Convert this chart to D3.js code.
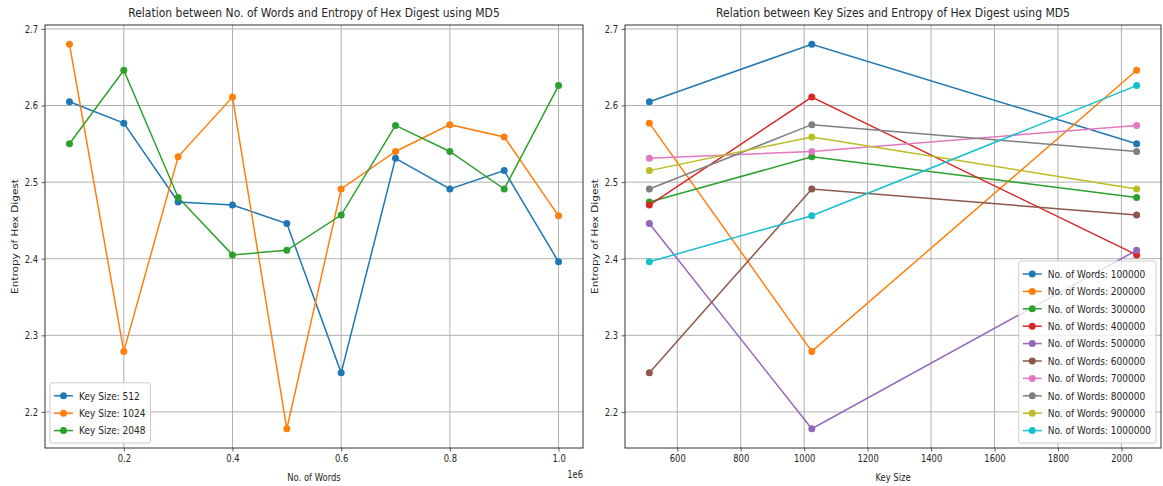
<!DOCTYPE html>
<html>
<head>
<meta charset="utf-8">
<script src="https://cdn.jsdelivr.net/npm/d3@7"></script>
<style>
  body { margin: 0; background: #fff; }
  text { font-family: "DejaVu Sans", sans-serif; fill: #262626; }
</style>
</head>
<body>
<svg id="chart" width="1163" height="486"></svg>
<script>
// Number of words hashed per run
const wordCounts = [100000, 200000, 300000, 400000, 500000, 600000, 700000, 800000, 900000, 1000000];
// Key sizes tested
const keySizes = [512, 1024, 2048];
// Entropy of the MD5 hex digest, one array per key size (indexed by word count)
const entropyKey512  = [2.605, 2.577, 2.474, 2.470, 2.446, 2.251, 2.531, 2.491, 2.515, 2.396];
const entropyKey1024 = [2.680, 2.279, 2.533, 2.611, 2.178, 2.491, 2.540, 2.575, 2.559, 2.456];
const entropyKey2048 = [2.550, 2.646, 2.480, 2.405, 2.411, 2.457, 2.574, 2.540, 2.491, 2.626];

// Tick values
const entropyTicks = [2.2, 2.3, 2.4, 2.5, 2.6, 2.7];
const wordTicks = [200000, 400000, 600000, 800000, 1000000];
const keyTicks = [600, 800, 1000, 1200, 1400, 1600, 1800, 2000];

const palette = ["#1f77b4", "#ff7f0e", "#2ca02c", "#d62728", "#9467bd",
                 "#8c564b", "#e377c2", "#7f7f7f", "#bcbd22", "#17becf"];

const SX = 0.8;       // horizontal text compression for ticks and labels
const SX_LEG = 0.82;  // legend text compression
const SX_TITLE = 0.83;

const svg = d3.select("#chart");

// matplotlib-style 5% padding around the data extent
function padded(values) {
  const [lo, hi] = d3.extent(values);
  const m = (hi - lo) * 0.05;
  return [lo - m, hi + m];
}

function squeeze(sel) {
  sel.each(function () {
    const t = d3.select(this);
    const x = +(t.attr("x") || 0);
    t.attr("x", x / SX).attr("transform", `scale(${SX},1)`);
  });
}

const allEntropy = entropyKey512.concat(entropyKey1024, entropyKey2048);
const yDomain = padded(allEntropy);

function panel(box, cfg) {
  const g = svg.append("g");
  const x = d3.scaleLinear().domain(cfg.xDomain).range([box.x0, box.x1]);
  const y = d3.scaleLinear().domain(yDomain).range([box.y1, box.y0]);

  // grid
  g.append("g").selectAll("line").data(cfg.xTicks).join("line")
    .attr("x1", d => x(d)).attr("x2", d => x(d))
    .attr("y1", box.y0).attr("y2", box.y1)
    .attr("stroke", "#b0b0b0").attr("stroke-width", 1);
  g.append("g").selectAll("line").data(entropyTicks).join("line")
    .attr("x1", box.x0).attr("x2", box.x1)
    .attr("y1", d => y(d)).attr("y2", d => y(d))
    .attr("stroke", "#b0b0b0").attr("stroke-width", 1);

  // axes
  const xa = g.append("g").attr("transform", `translate(0,${box.y1})`)
    .call(d3.axisBottom(x).tickValues(cfg.xTicks).tickFormat(cfg.xFmt)
      .tickSize(3.5).tickPadding(3.5).tickSizeOuter(0));
  const ya = g.append("g").attr("transform", `translate(${box.x0},0)`)
    .call(d3.axisLeft(y).tickValues(entropyTicks).tickFormat(d3.format(".1f"))
      .tickSize(3.5).tickPadding(3.5).tickSizeOuter(0));
  [xa, ya].forEach(a => {
    a.select(".domain").remove();
    a.selectAll(".tick line").attr("stroke", "#333").attr("stroke-width", 0.8);
    a.selectAll(".tick text").attr("font-size", 10.5).attr("fill", "#262626")
      .style("font-family", "DejaVu Sans, sans-serif").call(squeeze);
  });

  // frame
  g.append("rect").attr("x", box.x0).attr("y", box.y0)
    .attr("width", box.x1 - box.x0).attr("height", box.y1 - box.y0)
    .attr("fill", "none").attr("stroke", "#333").attr("stroke-width", 1);

  // series
  const line = d3.line().x(d => x(d[0])).y(d => y(d[1]));
  cfg.series.forEach((s, i) => {
    const pts = s.xs.map((v, j) => [v, s.ys[j]]);
    const sg = g.append("g");
    sg.append("path").attr("d", line(pts)).attr("fill", "none")
      .attr("stroke", palette[i]).attr("stroke-width", 1.5);
    sg.selectAll("circle").data(pts).join("circle")
      .attr("cx", d => x(d[0])).attr("cy", d => y(d[1])).attr("r", 3.5)
      .attr("fill", palette[i]);
  });

  // title and labels
  const cx = (box.x0 + box.x1) / 2;
  g.append("text").attr("transform", `translate(${cx},17) scale(${SX_TITLE},1)`)
    .attr("text-anchor", "middle").attr("font-size", 13).text(cfg.title);
  g.append("text").attr("transform", `translate(${cx},481) scale(${SX},1)`)
    .attr("text-anchor", "middle").attr("font-size", 10.5).text(cfg.xLabel);
  g.append("text")
    .attr("transform", `translate(${box.x0 - 27},${(box.y0 + box.y1) / 2}) scale(${SX},1) rotate(-90)`)
    .attr("text-anchor", "middle").attr("font-size", 10.5).text("Entropy of Hex Digest");
  if (cfg.offset) {
    g.append("text").attr("transform", `translate(${box.x1},478) scale(${SX},1)`)
      .attr("text-anchor", "end").attr("font-size", 10.5).text(cfg.offset);
  }

  // legend
  const rowH = 17.4;
  const lg = g.append("g");
  const bg = lg.append("rect");
  const items = lg.selectAll("g").data(cfg.series).join("g");
  let maxW = 0;
  items.each(function (s) {
    const it = d3.select(this);
    it.append("text").attr("font-size", 11).attr("dy", "0.35em")
      .attr("transform", `scale(${SX_LEG},1)`).text(s.label);
    maxW = Math.max(maxW, this.querySelector("text").getComputedTextLength() * SX_LEG);
  });
  const textX = 29;
  const bw = textX + maxW + 5;
  const bh = cfg.series.length * rowH + 8;
  const bx = cfg.legendRight ? box.x1 - 5 - bw : box.x0 + 5;
  const by = box.y1 - 5 - bh;
  bg.attr("x", bx).attr("y", by).attr("width", bw).attr("height", bh).attr("rx", 2)
    .attr("fill", "#fff").attr("fill-opacity", 0.8).attr("stroke", "#ccc");
  items.attr("transform", (s, i) => `translate(${bx},${by + 13 + i * rowH})`);
  items.each(function (s, i) {
    const it = d3.select(this);
    it.append("line").attr("x1", 4).attr("x2", 23).attr("y1", 0).attr("y2", 0)
      .attr("stroke", palette[i]).attr("stroke-width", 1.5);
    it.append("circle").attr("cx", 13.5).attr("cy", 0).attr("r", 3.5).attr("fill", palette[i]);
    it.select("text").attr("x", textX / SX_LEG);
  });
}

// Left: entropy vs number of words, one line per key size
const byKey = [entropyKey512, entropyKey1024, entropyKey2048];
panel({ x0: 45, x1: 583, y0: 25, y1: 448 }, {
  xDomain: padded(wordCounts),
  xTicks: wordTicks,
  xFmt: d => (d / 1e6).toFixed(1),
  offset: "1e6",
  title: "Relation between No. of Words and Entropy of Hex Digest using MD5",
  xLabel: "No. of Words",
  series: keySizes.map((k, i) => ({ label: `Key Size: ${k}`, xs: wordCounts, ys: byKey[i] })),
  legendRight: false
});

// Right: entropy vs key size, one line per number of words
panel({ x0: 625, x1: 1161, y0: 25, y1: 448 }, {
  xDomain: padded(keySizes),
  xTicks: keyTicks,
  xFmt: d3.format("d"),
  title: "Relation between Key Sizes and Entropy of Hex Digest using MD5",
  xLabel: "Key Size",
  series: wordCounts.map((w, i) => ({
    label: `No. of Words: ${w}`, xs: keySizes, ys: byKey.map(arr => arr[i])
  })),
  legendRight: true
});
</script>
</body>
</html>
